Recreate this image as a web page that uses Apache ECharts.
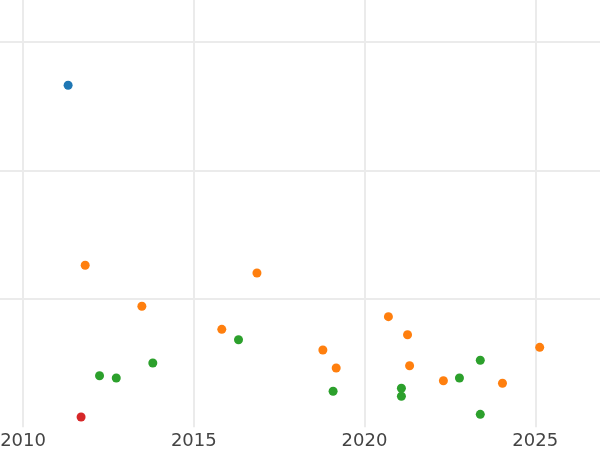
<!DOCTYPE html>
<html>
<head>
<meta charset="utf-8">
<script src="https://cdn.jsdelivr.net/npm/echarts@6/dist/echarts.min.js"></script>
<style>html,body{margin:0;padding:0;background:#fff;}#c{width:600px;height:450px;}</style>
</head>
<body>
<div id="c"></div>
<script>
const blueX = [2011.32];
const blueY = [26.63];
const redX = [2011.70];
const redY = [0.79];
const orangeX = [2011.82, 2013.48, 2016.85, 2015.82, 2018.78, 2019.17, 2020.70, 2021.26, 2021.32, 2022.31, 2024.04, 2025.13];
const orangeY = [12.61, 9.42, 12.01, 7.62, 6.01, 4.61, 8.61, 7.20, 4.79, 3.62, 3.42, 6.22];
const greenX = [2012.24, 2012.73, 2013.80, 2016.31, 2019.08, 2021.08, 2021.08, 2022.78, 2023.39, 2023.39];
const greenY = [4.01, 3.83, 5.00, 6.81, 2.80, 3.03, 2.41, 3.83, 5.21, 1.00];

function pts(xs, ys) { return xs.map((x, i) => [x, ys[i]]); }

const chart = echarts.init(document.getElementById('c'), null, {renderer: 'canvas'});
const mk = (name, color, xs, ys) => ({
  name, type: 'scatter', symbolSize: 9, data: pts(xs, ys),
  itemStyle: {color: color, opacity: 1}
});
chart.setOption({
  animation: false,
  grid: {left: -147.7, right: -106, top: -86.4, bottom: 22.8, containLabel: false, outerBoundsMode: 'none'},
  xAxis: {
    type: 'value', min: 2005, max: 2030, interval: 5,
    axisLine: {show: false}, axisTick: {show: false},
    axisLabel: {color: '#444', fontSize: 18, fontFamily: 'DejaVu Sans', margin: 5, formatter: v => String(v)},
    splitLine: {show: true, lineStyle: {color: '#ebebeb', width: 2}}
  },
  yAxis: {
    type: 'value', min: 0, max: 40, interval: 10,
    axisLine: {show: false}, axisTick: {show: false}, axisLabel: {show: false},
    splitLine: {show: true, showMinLine: false, lineStyle: {color: '#ebebeb', width: 2}}
  },
  series: [
    mk('blue', '#1f77b4', blueX, blueY),
    mk('red', '#d62728', redX, redY),
    mk('orange', '#ff7f0e', orangeX, orangeY),
    mk('green', '#2ca02c', greenX, greenY)
  ]
});
</script>
</body>
</html>
